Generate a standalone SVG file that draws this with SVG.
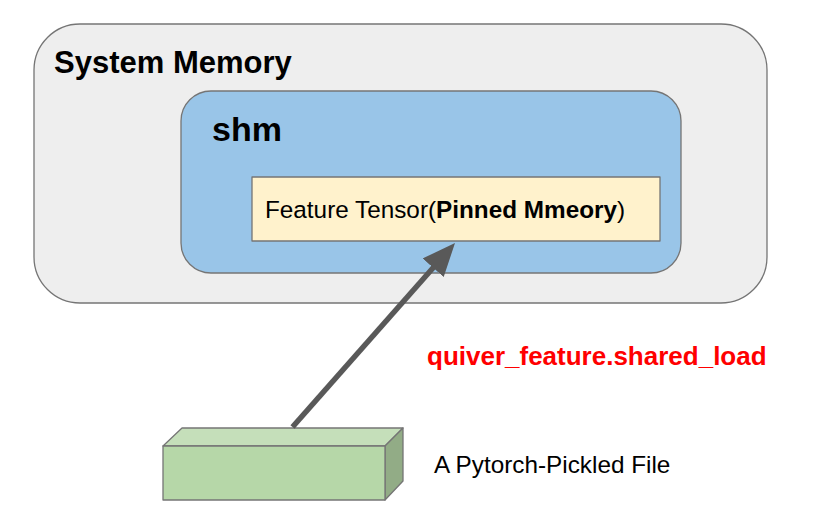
<svg xmlns="http://www.w3.org/2000/svg" width="822" height="515" viewBox="0 0 822 515">
<style>
text{font-family:"Liberation Sans",Arial,sans-serif;fill:#000}
.b{font-weight:bold}
.s{stroke:#757575;stroke-width:1.3;stroke-linejoin:round}
</style>
<defs><marker id="a" markerUnits="userSpaceOnUse" markerWidth="40" markerHeight="40" refX="33" refY="14" orient="auto"><path d="M0 0L33 14L0 28Z" fill="#595959"/></marker></defs>
<rect width="822" height="515" fill="#fff"/>
<g id="system-memory"><rect x="34" y="24" width="733" height="279" rx="46" fill="#eeeeee" class="s"/><text x="54" y="73" font-size="31" class="b">System Memory</text></g>
<g id="shm"><rect x="181" y="91" width="500" height="182" rx="30" fill="#99c5e8" class="s"/><text x="212" y="141" font-size="34" class="b">shm</text></g>
<g id="feature-tensor"><rect x="252" y="177" width="408" height="64" fill="#fff2cc" class="s"/><text x="265" y="218" font-size="24.3">Feature Tensor(<tspan class="b">Pinned Mmeory</tspan>)</text></g>
<g id="file"><path d="M163 446L182 428H403L385 446Z" fill="#c5dfba" class="s"/><path d="M385 446L403 428V481L385 500Z" fill="#92ac86" class="s"/><rect x="163" y="446" width="222" height="54" fill="#b6d7a8" class="s"/></g>
<g id="connectors"><line x1="292.500" y1="427" x2="440" y2="260" stroke="#595959" stroke-width="5.5"/><line x1="440" y1="260" x2="455" y2="243" stroke="none" marker-end="url(#a)"/></g>
<text x="427" y="365" font-size="26" class="b" style="fill:#ff0000">quiver_feature.shared_load</text>
<text x="434" y="473" font-size="24.3">A Pytorch-Pickled File</text>
</svg>
